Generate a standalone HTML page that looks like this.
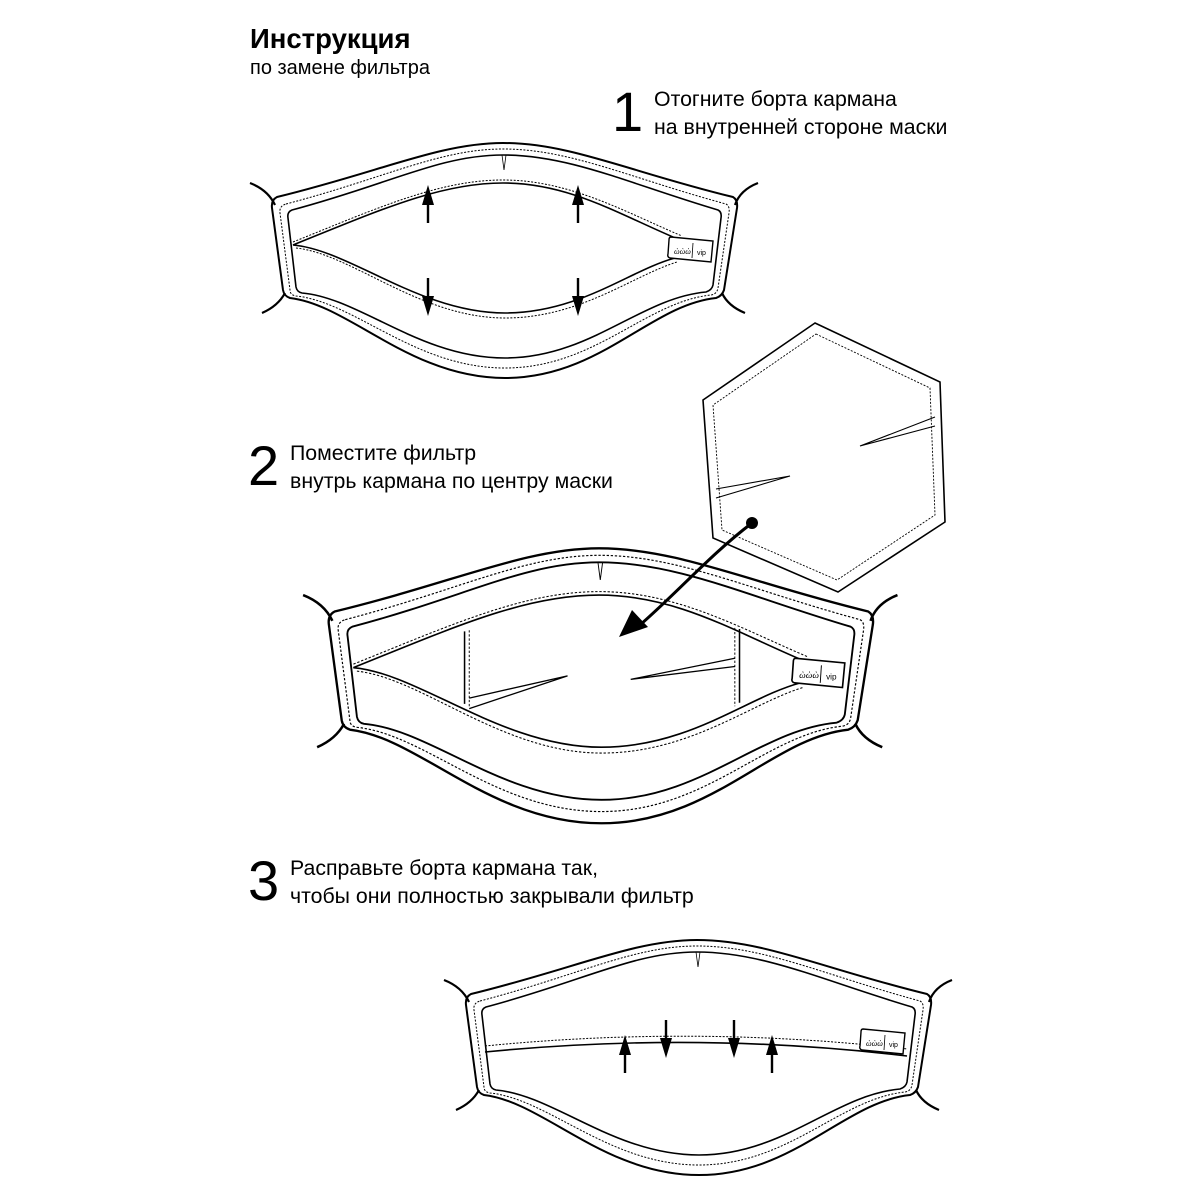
<!DOCTYPE html>
<html><head><meta charset="utf-8"><style>
html,body{margin:0;padding:0;background:#fff;}
body{width:1200px;height:1200px;position:relative;overflow:hidden;font-family:"Liberation Sans","DejaVu Sans",sans-serif;color:#000;}
.t{position:absolute;font-size:21.3px;line-height:28px;white-space:nowrap;}
.n{position:absolute;font-size:56px;line-height:56px;}
</style></head><body>
<svg width="1200" height="1200" style="position:absolute;left:0;top:0" xmlns="http://www.w3.org/2000/svg">
<defs>
<g id="outline" fill="none" stroke="#000">
<path fill="#fff" stroke-width="2" d="M277,197 C380,172 440,143 503,143 C570,143 630,172 733,197 Q738,200 737,208 L724,290 Q722,296 716,298 C650,305 600,378 505,378 C410,378 350,305 290,298 Q284,296 283,290 L272,208 Q271,200 277,197 Z"/>
<path stroke-width="1" stroke-dasharray="2,1.5" d="M286,204 C385,178 440,149 503,149 C570,149 630,178 726,204 Q730,206 729,213 L718,288 Q717,294 711,295 C645,302 595,368 505,368 C415,368 355,302 296,296 Q290,295 290,290 L280,213 Q279,206 286,204 Z"/>
<path stroke-width="1.6" d="M292,210 C390,184 440,155 503,155 C570,155 630,184 718,210 Q722,212 721,218 L713,285 Q712,290 706,292 C640,298 590,358 505,358 C420,358 360,298 302,293 Q297,292 296,287 L288,218 Q287,212 292,210 Z"/>
<path stroke-width="0.8" d="M502,155 L504,170 L506,155"/>
<path stroke-width="2.2" d="M250,183 Q268,190 275,205 M262,313 Q278,306 285,293 M758,183 Q740,190 735,205 M745,313 Q728,306 722,293"/>
</g>
<g id="label">
<path fill="#fff" stroke="#000" stroke-width="1.4" d="M671,237 L713,241 L711,262 L670,258 Q667,257 668,254 L669,240 Q669,237 671,237 Z"/>
<text x="674" y="254" font-size="8" font-family="Liberation Serif,serif" font-style="italic">ὼὼὼ</text>
<line x1="693" y1="243" x2="692" y2="258" stroke="#000" stroke-width="0.8"/>
<text x="697" y="255" font-size="7" font-family="Liberation Sans,sans-serif">vip</text>
</g>
<g id="up"><line x1="0" y1="0" x2="0" y2="-22" stroke="#000" stroke-width="2.4"/><path d="M-6,-18 L0,-38 L6,-18 Z"/></g>
<g id="down"><line x1="0" y1="0" x2="0" y2="22" stroke="#000" stroke-width="2.4"/><path d="M-6,18 L0,38 L6,18 Z"/></g>
</defs>

<!-- Mask 1 -->
<use href="#outline"/>
<g fill="none" stroke="#000">
<path stroke-width="1" stroke-dasharray="2,1.5" d="M293,242 C380,207 440,180 503,180 C570,180 625,212 682,236"/>
<path stroke-width="1.6" fill="#fff" d="M293,245 C380,210 440,183 503,183 C570,183 620,215 680,240 L675,258 C630,270 580,313 505,313 C420,313 350,250 293,245 Z"/>
<path stroke-width="1" stroke-dasharray="2,1.5" d="M296,248 C352,254 420,318 505,318 C580,318 632,276 677,262"/>
</g>
<use href="#label"/>
<use href="#up" x="428" y="223"/><use href="#up" x="578" y="223"/>
<use href="#down" x="428" y="278"/><use href="#down" x="578" y="278"/>

<!-- Mask 2 -->
<g transform="translate(10.6,381) scale(1.17)">
<use href="#outline"/>
<g fill="none" stroke="#000">
<path stroke-width="0.9" stroke-dasharray="2,1.5" d="M293,242 C380,207 440,180 503,180 C570,180 625,212 682,236"/>
<path stroke-width="1.4" fill="#fff" d="M293,245 C380,210 440,183 503,183 C570,183 620,215 680,240 L675,258 C630,270 580,313 505,313 C420,313 350,250 293,245 Z"/>
<path stroke-width="0.9" stroke-dasharray="2,1.5" d="M296,248 C352,254 420,318 505,318 C580,318 632,276 677,262"/>
<path stroke-width="1.3" d="M388,214 L388,276 M623,212 L623,275"/>
<path stroke-width="0.8" stroke-dasharray="2,1.5" d="M392,213 L392,279 M619,211 L619,278"/>
<path stroke-width="1.1" d="M392,271 L476,252 L392,280 M619,237 L530,255 L619,244"/>
</g>
<use href="#label"/>
</g>

<!-- Hexagon filter -->
<g fill="none" stroke="#000">
<polygon fill="#fff" stroke-width="1.6" points="815,323 940,382 945,522 838,592 713,538 703,400"/>
<polygon stroke-width="0.9" stroke-dasharray="2,1.5" points="816,334 930,388 935,515 837,580 722,530 713,405"/>
<path stroke-width="1.1" d="M935,417 L860,446 L935,426 M716,489 L790,476 L716,498"/>
</g>
<circle cx="752" cy="523" r="6"/>
<path d="M752,523 C710,555 680,590 640,625" fill="none" stroke="#000" stroke-width="3"/>
<path d="M619,637 L632,610 L648,627 Z"/>

<!-- Mask 3 -->
<g transform="translate(194,797)">
<use href="#outline"/>
<g fill="none" stroke="#000">
<path stroke-width="1" stroke-dasharray="2,1.5" d="M291,249 Q503,228 713,252"/>
<path stroke-width="1.6" d="M291,255 Q503,234 713,259"/>
</g>
<use href="#label" transform="translate(-2,-5)"/>
<use href="#up" x="431" y="276"/><use href="#up" x="578" y="276"/>
<use href="#down" x="472" y="223"/><use href="#down" x="540" y="223"/>
</g>
</svg>

<div class="t" style="left:250px;top:22px;font-size:27.5px;font-weight:bold;line-height:34px">Инструкция</div>
<div class="t" style="left:250px;top:54px;font-size:20px">по замене фильтра</div>

<div class="n" style="left:612px;top:84px">1</div>
<div class="t" style="left:654px;top:85px">Отогните борта кармана<br>на внутренней стороне маски</div>

<div class="n" style="left:248px;top:438px">2</div>
<div class="t" style="left:290px;top:439px">Поместите фильтр<br>внутрь кармана по центру маски</div>

<div class="n" style="left:248px;top:853px">3</div>
<div class="t" style="left:290px;top:854px">Расправьте борта кармана так,<br>чтобы они полностью закрывали фильтр</div>
</body></html>
